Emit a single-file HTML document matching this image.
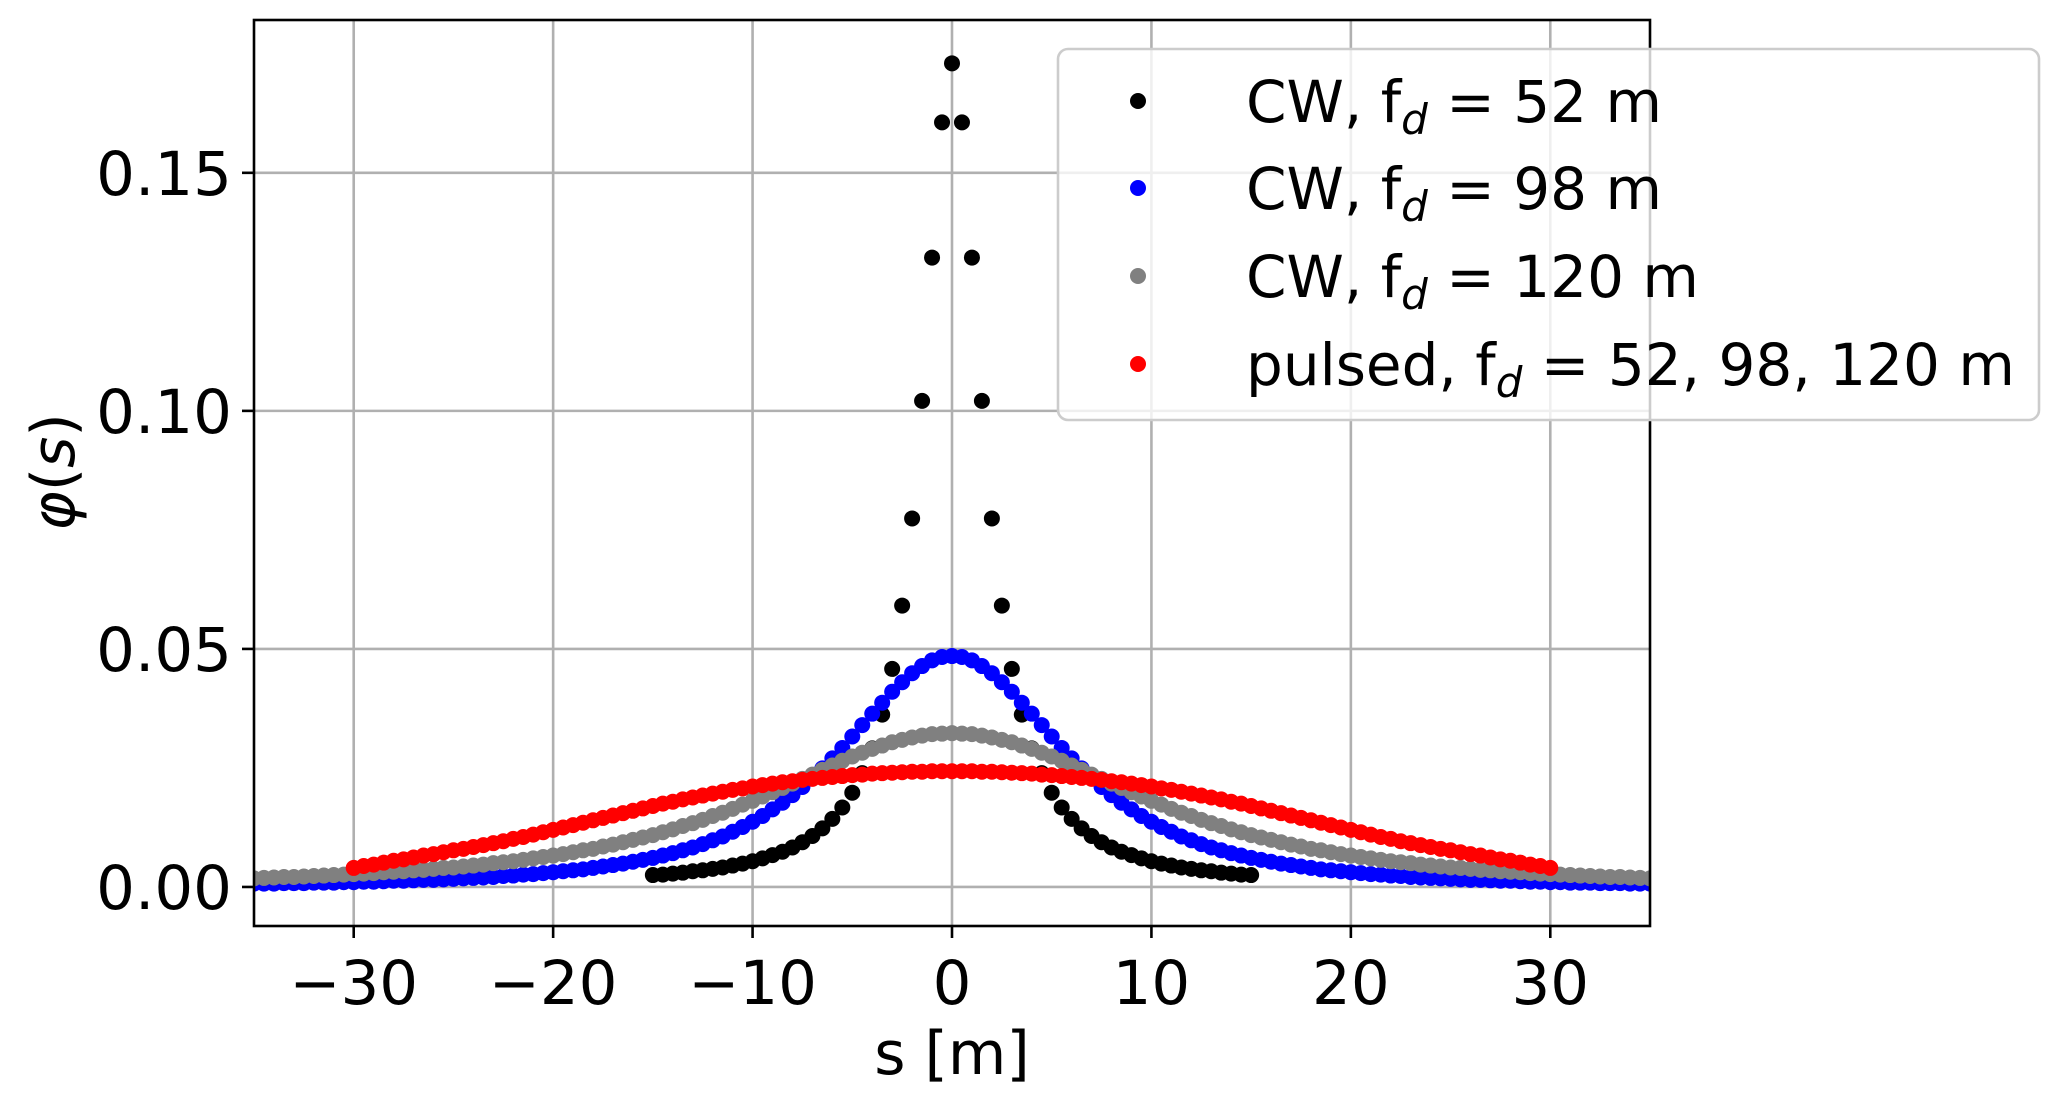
<!DOCTYPE html>
<html><head><meta charset="utf-8"><style>
html,body{margin:0;padding:0;background:#fff;}
svg{display:block;font-family:"DejaVu Sans","Liberation Sans",sans-serif;}
</style></head><body>
<svg id="chart" width="2059" height="1101" viewBox="0 0 2059 1101" xmlns="http://www.w3.org/2000/svg">
<defs><clipPath id="plotclip"><rect x="254" y="20" width="1396" height="906"/></clipPath></defs>
<rect x="0" y="0" width="2059" height="1101" fill="#fff"/>
<g id="grid"></g>
<g id="series" clip-path="url(#plotclip)"></g>
<rect x="254" y="20" width="1396" height="906" fill="none" stroke="#000" stroke-width="2.6"/>
<g id="ticks"></g>
<text x="952" y="1074" font-size="60" text-anchor="middle">s [m]</text>
<text transform="translate(74,472) rotate(-90)" font-size="60" text-anchor="middle"><tspan font-style="italic">φ</tspan>(<tspan font-style="italic">s</tspan>)</text>
<g id="legend">
<rect x="1058" y="49" width="981" height="371" rx="10" fill="#fff" fill-opacity="0.8" stroke="#cccccc" stroke-width="2.6"/>
</g>
</svg>
<script>
const xTicks = [-30, -20, -10, 0, 10, 20, 30];
const xTickLabels = ["\u221230", "\u221220", "\u221210", "0", "10", "20", "30"];
const yTicks = [0, 0.05, 0.10, 0.15];
const yTickLabels = ["0.00", "0.05", "0.10", "0.15"];
const seriesNames = ["CW, f_d = 52 m", "CW, f_d = 98 m", "CW, f_d = 120 m", "pulsed, f_d = 52, 98, 120 m"];
const seriesColors = ["#000000", "#0000ff", "#808080", "#ff0000"];
const sStartBlack = -15, sStartBlue = -35, sStartGray = -35, sStartRed = -30;
const sStep = 0.5;
const phiBlack = [.0025,.0026,.0028,.0030,.0033,.0035,.0038,.0041,.0045,.0049,.0054,.0060,.0067,.0074,.0083,.0094,.0107,.0123,.0143,.0167,.0198,.0239,.0291,.0362,.0458,.0591,.0774,.1021,.1322,.1606,
.173,.1606,.1322,.1021,.0774,.0591,.0458,.0362,.0291,.0239,.0198,.0167,.0143,.0123,.0107,.0094,.0083,.0074,.0067,.0060,.0054,.0049,.0045,.0041,.0038,.0035,.0033,.0030,.0028,.0026,.0025];
const phiBlue = [.0007,.0007,.0007,.0008,.0008,.0008,.0009,.0009,.0009,.0010,.0010,.0011,.0011,.0012,.0013,.0013,.0014,.0015,.0015,.0016,.0017,.0018,.0019,.0020,.0021,.0023,.0024,.0026,.0027,.0029,.0031,.0033,.0035,.0037,.0040,.0043,.0046,.0049,.0053,.0057,.0061,.0066,.0071,.0077,.0083,.0090,.0098,.0106,.0116,.0126,.0137,.0149,.0163,.0177,.0193,.0210,.0229,.0249,.0270,.0292,.0316,.0340,.0364,.0387,.0410,.0430,.0449,.0464,.0476,.0483,
.0485,.0483,.0476,.0464,.0449,.0430,.0410,.0387,.0364,.0340,.0316,.0292,.0270,.0249,.0229,.0210,.0193,.0177,.0163,.0149,.0137,.0126,.0116,.0106,.0098,.0090,.0083,.0077,.0071,.0066,.0061,.0057,.0053,.0049,.0046,.0043,.0040,.0037,.0035,.0033,.0031,.0029,.0027,.0026,.0024,.0023,.0021,.0020,.0019,.0018,.0017,.0016,.0015,.0015,.0014,.0013,.0013,.0012,.0011,.0011,.0010,.0010,.0009,.0009,.0009,.0008,.0008,.0008,.0007,.0007,.0007];
const phiGray = [.0018,.0019,.0020,.0021,.0021,.0022,.0023,.0024,.0025,.0026,.0027,.0028,.0029,.0031,.0032,.0033,.0035,.0036,.0038,.0040,.0041,.0043,.0045,.0047,.0050,.0052,.0054,.0057,.0060,.0063,.0066,.0069,.0073,.0077,.0080,.0085,.0089,.0094,.0099,.0104,.0109,.0115,.0121,.0128,.0134,.0141,.0149,.0156,.0164,.0173,.0181,.0190,.0199,.0208,.0217,.0227,.0236,.0246,.0255,.0265,.0274,.0282,.0290,.0297,.0304,.0309,.0314,.0318,.0321,.0322,
.0323,.0322,.0321,.0318,.0314,.0309,.0304,.0297,.0290,.0282,.0274,.0265,.0255,.0246,.0236,.0227,.0217,.0208,.0199,.0190,.0181,.0173,.0164,.0156,.0149,.0141,.0134,.0128,.0121,.0115,.0109,.0104,.0099,.0094,.0089,.0085,.0080,.0077,.0073,.0069,.0066,.0063,.0060,.0057,.0054,.0052,.0050,.0047,.0045,.0043,.0041,.0040,.0038,.0036,.0035,.0033,.0032,.0031,.0029,.0028,.0027,.0026,.0025,.0024,.0023,.0022,.0021,.0021,.0020,.0019,.0018];
const phiRed = [.0040,.0044,.0047,.0051,.0055,.0058,.0062,.0066,.0069,.0073,.0077,.0080,.0084,.0088,.0092,.0096,.0101,.0105,.0110,.0115,.0120,.0125,.0130,.0135,.0140,.0145,.0150,.0155,.0160,.0165,.0170,.0175,.0179,.0184,.0188,.0192,.0196,.0200,.0204,.0207,.0211,.0214,.0217,.0220,.0222,.0225,.0227,.0229,.0231,.0233,.0235,.0236,.0238,.0239,.0240,.0241,.0242,.0242,.0243,.0243,
.0243,.0243,.0243,.0242,.0242,.0241,.0240,.0239,.0238,.0236,.0235,.0233,.0231,.0229,.0227,.0225,.0222,.0220,.0217,.0214,.0211,.0207,.0204,.0200,.0196,.0192,.0188,.0184,.0179,.0175,.0170,.0165,.0160,.0155,.0150,.0145,.0140,.0135,.0130,.0125,.0120,.0115,.0110,.0105,.0101,.0096,.0092,.0088,.0084,.0080,.0077,.0073,.0069,.0066,.0062,.0058,.0055,.0051,.0047,.0044,.0040];

const NS = "http://www.w3.org/2000/svg";
const PL = 254, PR = 1650, PT = 20, PB = 926;
const X_MIN = -35, X_MAX = 35, Y_MIN = -0.0082, Y_MAX = 0.1821;
function xScale(v){ return PL + (v - X_MIN) / (X_MAX - X_MIN) * (PR - PL); }
function yScale(v){ return PB - (v - Y_MIN) / (Y_MAX - Y_MIN) * (PB - PT); }
function mk(tag, attrs, parent){ const e = document.createElementNS(NS, tag); for (const k in attrs) e.setAttribute(k, attrs[k]); parent.appendChild(e); return e; }

const grid = document.getElementById('grid');
const ticks = document.getElementById('ticks');
xTicks.forEach((t, i) => {
  const x = xScale(t);
  const g = mk('line', {x1:x, x2:x, y1:PT, y2:PB, stroke:'#b0b0b0', 'stroke-width':2.6}, grid);
  
  
  const tk = mk('line', {x1:x, x2:x, y1:PB, y2:PB+12, stroke:'#000', 'stroke-width':2.6}, ticks);
  
  
  const lb = mk('text', {x:x, y:PB+78, 'font-size':61, 'text-anchor':'middle'}, ticks);
  lb.textContent = xTickLabels[i];
  
  
});
yTicks.forEach((t, i) => {
  const y = yScale(t);
  const g = mk('line', {x1:PL, x2:PR, y1:y, y2:y, stroke:'#b0b0b0', 'stroke-width':2.6}, grid);
  
  
  const tk = mk('line', {x1:PL-12, x2:PL, y1:y, y2:y, stroke:'#000', 'stroke-width':2.6}, ticks);
  
  
  const lb = mk('text', {x:PL-22, y:y+22, 'font-size':61, 'text-anchor':'end'}, ticks);
  lb.textContent = yTickLabels[i];
  
  
});

const seriesG = document.getElementById('series');
const allSeries = [[phiBlack, sStartBlack], [phiBlue, sStartBlue], [phiGray, sStartGray], [phiRed, sStartRed]];
const seriesKeys = ['cw-52', 'cw-98', 'cw-120', 'pulsed'];
allSeries.forEach((sd, si) => {
  const grp = mk('g', {fill: seriesColors[si]}, seriesG);
  
  
  sd[0].forEach((v, j) => {
    const c = mk('circle', {cx: xScale(sd[1] + j * sStep), cy: yScale(v), r: 8}, grp);
    
    
  });
});

const legend = document.getElementById('legend');
const rowY = [101, 188, 276, 364];
seriesNames.forEach((name, i) => {
  const m = mk('circle', {cx:1138, cy:rowY[i], r:8, fill:seriesColors[i]}, legend);
  
  
  const parts = name.split('f_d');
  const t = mk('text', {x:1246, y:rowY[i]+21, 'font-size':58}, legend);
  
  
  const a = mk('tspan', {}, t); a.textContent = parts[0] + 'f';
  const b = mk('tspan', {dy:12, 'font-size':42, 'font-style':'italic'}, t); b.textContent = 'd';
  const c = mk('tspan', {dy:-12}, t); c.textContent = parts[1];
});
</script>
</body></html>
